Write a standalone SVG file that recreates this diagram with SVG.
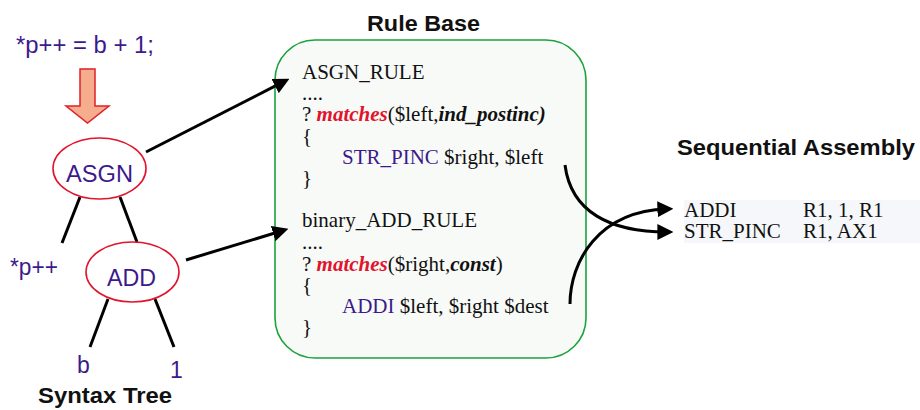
<svg xmlns="http://www.w3.org/2000/svg" width="920" height="410" viewBox="0 0 920 410">
  <style>
    .sans { font-family: "Liberation Sans", Arial, sans-serif; }
    .serif { font-family: "Liberation Serif", "Times New Roman", serif; font-size: 21px; fill: #111; }
    .title { font-weight: bold; font-size: 22px; fill: #111; }
    .code { font-size: 23px; fill: #3d1a8c; }
    .node { fill: #ffffff; stroke: #e0142c; stroke-width: 1.6; }
    .edge { stroke: #000; stroke-width: 3; fill: none; }
    .kw { fill: #e0142c; font-weight: bold; font-style: italic; }
    .bi { font-weight: bold; font-style: italic; }
    .op { fill: #3d1a8c; }
  </style>
  <defs>
    <marker id="head" markerUnits="userSpaceOnUse" markerWidth="16" markerHeight="16" viewBox="0 0 15 15" refX="9" refY="7.5" orient="auto">
      <path d="M0,0 L15,7.5 L0,15 Z" fill="#000"/>
    </marker>
  </defs>

  <!-- source statement and transform arrow -->
  <g id="source">
    <text class="sans code" x="16" y="53" textLength="138" lengthAdjust="spacingAndGlyphs">*p++ = b + 1;</text>
  </g>
  <g id="parse-arrow">
    <polygon points="80,69 95,69 95,106 109,106 87.5,123 66,106 80,106" fill="#f6ad8d" stroke="#e0202a" stroke-width="1.5"/>
  </g>

  <!-- syntax tree -->
  <g id="tree-edges">
    <line class="edge" x1="80" y1="197" x2="62" y2="243"/>
    <line class="edge" x1="120" y1="197" x2="137" y2="242"/>
    <line class="edge" x1="108" y1="299" x2="90" y2="347"/>
    <line class="edge" x1="155" y1="299" x2="174" y2="347"/>
  </g>
  <g id="asgn">
    <ellipse class="node" cx="99.5" cy="168.5" rx="46.5" ry="30.5"/>
    <text class="sans code" x="99.5" y="182" text-anchor="middle" textLength="67" lengthAdjust="spacingAndGlyphs">ASGN</text>
  </g>
  <g id="add">
    <ellipse class="node" cx="132.5" cy="272" rx="46.5" ry="30"/>
    <text class="sans code" x="131.5" y="286" text-anchor="middle" textLength="49" lengthAdjust="spacingAndGlyphs">ADD</text>
  </g>
  <g id="leaf-p">
    <text class="sans code" x="10" y="275" textLength="48" lengthAdjust="spacingAndGlyphs">*p++</text>
  </g>
  <g id="leaf-b">
    <text class="sans code" x="77" y="373">b</text>
  </g>
  <g id="leaf-1">
    <text class="sans code" x="170" y="378">1</text>
  </g>
  <text class="sans title" x="38" y="403" textLength="134" lengthAdjust="spacingAndGlyphs">Syntax Tree</text>

  <!-- rule base -->
  <text class="sans title" x="367" y="31" textLength="113" lengthAdjust="spacingAndGlyphs">Rule Base</text>
  <g id="rule-base">
    <rect x="275" y="40" width="311" height="318" rx="40" ry="40" fill="#f8faf8" stroke="#1aa33c" stroke-width="1.6"/>
    <g id="asgn-rule" class="serif">
      <text x="302" y="79">ASGN_RULE</text>
      <text x="302" y="100">....</text>
      <text x="302" y="121">? <tspan class="kw">matches</tspan>($left,<tspan class="bi">ind_postinc)</tspan></text>
      <text x="302" y="143">{</text>
      <text x="342" y="164"><tspan class="op">STR_PINC</tspan> $right, $left</text>
      <text x="302" y="185">}</text>
    </g>
    <g id="add-rule" class="serif">
      <text x="302" y="227">binary_ADD_RULE</text>
      <text x="302" y="249">....</text>
      <text x="302" y="271">? <tspan class="kw">matches</tspan>($right,<tspan class="bi">const</tspan>)</text>
      <text x="302" y="292">{</text>
      <text x="342" y="313"><tspan class="op">ADDI</tspan> $left, $right $dest</text>
      <text x="302" y="334">}</text>
    </g>
  </g>

  <!-- emitted code -->
  <text class="sans title" x="677" y="155" textLength="238" lengthAdjust="spacingAndGlyphs">Sequential Assembly</text>
  <g id="assembly">
    <rect x="684" y="200" width="236" height="43" fill="#f5f7fa"/>
    <g class="serif">
      <text x="684" y="217">ADDI</text>
      <text x="803" y="217">R1, 1, R1</text>
      <text x="684" y="238">STR_PINC</text>
      <text x="803" y="238">R1, AX1</text>
    </g>
  </g>

  <!-- connectors -->
  <g id="connectors">
    <line class="edge" x1="146" y1="152" x2="283.7" y2="81.7" marker-end="url(#head)"/>
    <line class="edge" x1="186" y1="260" x2="282.3" y2="230.7" marker-end="url(#head)"/>
    <path class="edge" d="M565,165 C571,212 610,232 667,232" marker-end="url(#head)"/>
    <path class="edge" d="M570,304 C570,262 598,211 667,209" marker-end="url(#head)"/>
  </g>
</svg>
